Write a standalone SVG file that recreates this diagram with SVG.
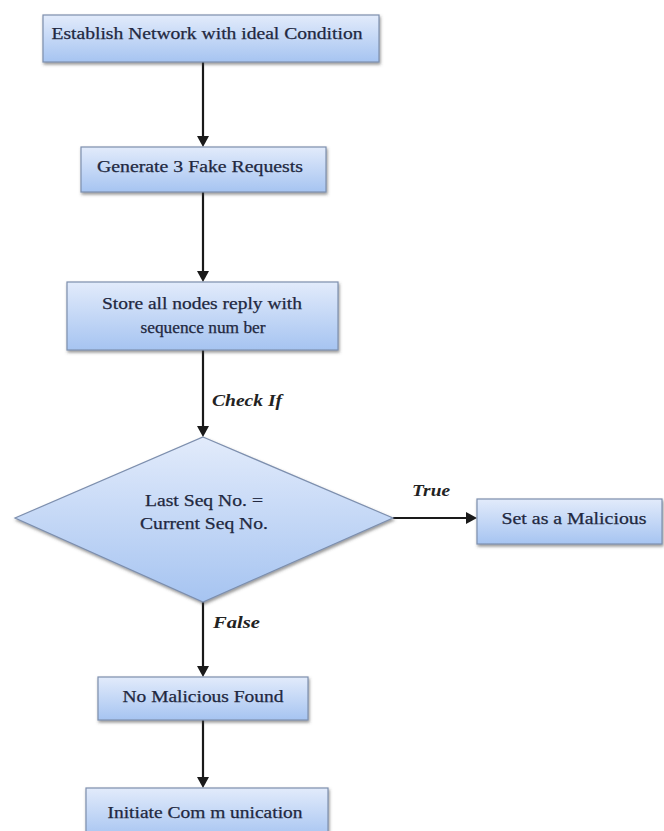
<svg xmlns="http://www.w3.org/2000/svg" width="664" height="831" viewBox="0 0 664 831">
<defs>
<linearGradient id="g" x1="0" y1="0" x2="0" y2="1">
<stop offset="0" stop-color="#e2ebfb"/>
<stop offset="1" stop-color="#a6c4f1"/>
</linearGradient>
<filter id="sh" x="-5%" y="-10%" width="110%" height="130%">
<feDropShadow dx="1" dy="2" stdDeviation="1.5" flood-color="#444" flood-opacity="0.55"/>
</filter>
</defs>
<style>
.box{fill:url(#g);stroke:#7d8fae;stroke-width:1.2;filter:url(#sh)}
.t{font-family:"Liberation Serif","Times New Roman",serif;font-size:16px;fill:#222840;stroke:#222840;stroke-width:0.25;text-anchor:middle;dominant-baseline:central}
.l{font-family:"Liberation Serif","Times New Roman",serif;font-size:16px;font-weight:bold;font-style:italic;fill:#222;dominant-baseline:central}
.c{stroke:#1a1a1a;stroke-width:2.2;fill:none}
.ah{fill:#1a1a1a}
</style>
<rect width="664" height="831" fill="#fff"/>
<g id="connectors">
<line class="c" x1="203" y1="62" x2="203" y2="140"/>
<path class="ah" d="M197,136 L203,147 L209,136 z"/>
<line class="c" x1="203" y1="192" x2="203" y2="275"/>
<path class="ah" d="M197,271 L203,282 L209,271 z"/>
<line class="c" x1="203" y1="350" x2="203" y2="430"/>
<path class="ah" d="M197,426 L203,437 L209,426 z"/>
<line class="c" x1="393" y1="518" x2="470" y2="518"/>
<path class="ah" d="M466,512 L477,518 L466,524 z"/>
<line class="c" x1="203" y1="602" x2="203" y2="670"/>
<path class="ah" d="M197,666 L203,677 L209,666 z"/>
<line class="c" x1="203" y1="720" x2="203" y2="781"/>
<path class="ah" d="M197,777 L203,788 L209,777 z"/>
<text class="l" x="212" y="400" textLength="70" lengthAdjust="spacingAndGlyphs">Check If</text>
<text class="l" x="412" y="490" textLength="38" lengthAdjust="spacingAndGlyphs">True</text>
<text class="l" x="213" y="622" textLength="47" lengthAdjust="spacingAndGlyphs">False</text>
</g>
<g id="n1">
<rect class="box" x="43" y="15" width="336" height="47"/>
<text class="t" x="207" y="33" textLength="311" lengthAdjust="spacingAndGlyphs">Establish Network with ideal Condition</text>
</g>
<g id="n2">
<rect class="box" x="81" y="147" width="245" height="45"/>
<text class="t" x="200" y="166" textLength="206" lengthAdjust="spacingAndGlyphs">Generate 3 Fake Requests</text>
</g>
<g id="n3">
<rect class="box" x="67" y="282" width="271" height="68"/>
<text class="t" x="202" y="303" textLength="200" lengthAdjust="spacingAndGlyphs">Store all nodes reply with</text>
<text class="t" x="203" y="327" textLength="125" lengthAdjust="spacingAndGlyphs">sequence num ber</text>
</g>
<g id="n4">
<polygon class="box" points="203,437 393,518 203,602 15,518"/>
<text class="t" x="204" y="500" textLength="118" lengthAdjust="spacingAndGlyphs">Last Seq No. =</text>
<text class="t" x="204" y="523" textLength="128" lengthAdjust="spacingAndGlyphs">Current Seq No.</text>
</g>
<g id="n5">
<rect class="box" x="477" y="499" width="185" height="45"/>
<text class="t" x="574" y="518" textLength="145" lengthAdjust="spacingAndGlyphs">Set as a Malicious</text>
</g>
<g id="n6">
<rect class="box" x="98" y="677" width="210" height="43"/>
<text class="t" x="203" y="696" textLength="161" lengthAdjust="spacingAndGlyphs">No Malicious Found</text>
</g>
<g id="n7">
<rect class="box" x="86" y="788" width="242" height="50"/>
<text class="t" x="205" y="812" textLength="195" lengthAdjust="spacingAndGlyphs">Initiate Com m unication</text>
</g>
</svg>
